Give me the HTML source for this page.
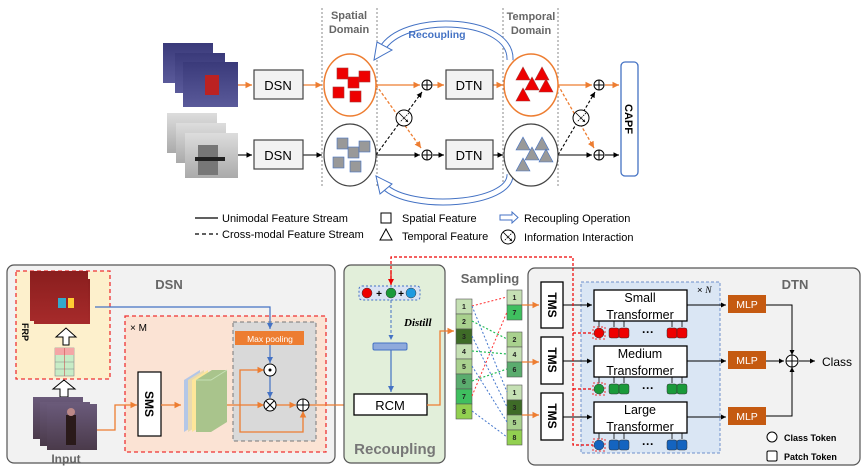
<!DOCTYPE html>
<html><head><meta charset="utf-8"><style>
html,body{margin:0;padding:0;background:#fff;}
svg{display:block;font-family:"Liberation Sans",sans-serif;}
</style></head><body>
<svg width="865" height="469" viewBox="0 0 865 469" xmlns="http://www.w3.org/2000/svg">
<defs>
<marker id="ab" markerWidth="6" markerHeight="6" refX="5" refY="3" orient="auto"><path d="M0,0.5 L5,3 L0,5.5z" fill="#000"/></marker>
<marker id="ao" markerWidth="6" markerHeight="6" refX="5" refY="3" orient="auto"><path d="M0,0.5 L5,3 L0,5.5z" fill="#ed7d31"/></marker>
<marker id="abl" markerWidth="6" markerHeight="6" refX="5" refY="3" orient="auto"><path d="M0,0.5 L5,3 L0,5.5z" fill="#4472c4"/></marker>
<marker id="ar" markerWidth="6" markerHeight="6" refX="5" refY="3" orient="auto"><path d="M0,0.5 L5,3 L0,5.5z" fill="#e00"/></marker>
<marker id="as" markerWidth="4" markerHeight="4" refX="3" refY="2" orient="auto"><path d="M0,0 L3,2 L0,4z" fill="#000"/></marker>
<linearGradient id="gc" x1="0" y1="0" x2="0" y2="1"><stop offset="0" stop-color="#3a3a7a"/><stop offset="1" stop-color="#5a5a9a"/></linearGradient>
<linearGradient id="gd" x1="0" y1="0" x2="0" y2="1"><stop offset="0" stop-color="#ddd"/><stop offset="1" stop-color="#aaa"/></linearGradient>
<linearGradient id="gr" x1="0" y1="0" x2="0" y2="1"><stop offset="0" stop-color="#8a1e1e"/><stop offset="1" stop-color="#a52a2a"/></linearGradient>
<linearGradient id="gi" x1="0" y1="0" x2="0" y2="1"><stop offset="0" stop-color="#6a5a7a"/><stop offset="1" stop-color="#4a3a4a"/></linearGradient>
</defs>

<!-- ===== TOP ===== -->
<g stroke="#888" stroke-dasharray="2,2" stroke-width="1">
<line x1="322" y1="8" x2="322" y2="188"/><line x1="377" y1="8" x2="377" y2="188"/>
<line x1="503" y1="8" x2="503" y2="188"/><line x1="558" y1="8" x2="558" y2="188"/>
</g>
<g font-weight="bold" font-size="11" fill="#666" text-anchor="middle">
<text x="349" y="19">Spatial</text><text x="349" y="33">Domain</text>
<text x="531" y="20">Temporal</text><text x="531" y="34">Domain</text>
</g>
<!-- recoupling arcs -->
<path d="M510,60 C512,18 410,12 384,46" fill="none" stroke="#4472c4" stroke-width="7"/>
<path d="M510,60 C512,18 410,12 384,46" fill="none" stroke="#fff" stroke-width="5"/>
<path d="M377,42 L392,50 L374,60 Z" fill="#fff" stroke="#4472c4" stroke-width="1"/>
<path d="M510,174 C512,205 410,212 384,186" fill="none" stroke="#4472c4" stroke-width="7"/>
<path d="M510,174 C512,205 410,212 384,186" fill="none" stroke="#fff" stroke-width="5"/>
<path d="M376,176 L392,184 L380,194 Z" fill="#fff" stroke="#4472c4" stroke-width="1"/>
<text x="437" y="38" font-size="10.5" fill="#4472c4" font-weight="bold" text-anchor="middle">Recoupling</text>
<!-- images -->
<rect x="163" y="43" width="50" height="40" fill="url(#gc)"/><rect x="175" y="53" width="50" height="40" fill="url(#gc)"/><rect x="183" y="62" width="55" height="45" fill="url(#gc)"/>
<rect x="205" y="75" width="14" height="20" fill="#b22"/>
<rect x="167" y="113" width="50" height="40" fill="url(#gd)"/><rect x="176" y="123" width="50" height="40" fill="url(#gd)"/><rect x="185" y="133" width="53" height="45" fill="url(#gd)"/>
<rect x="198" y="145" width="20" height="30" fill="#777"/><rect x="195" y="157" width="30" height="4" fill="#222"/>
<!-- top stream -->
<g stroke="#ed7d31" stroke-width="1.3" fill="none">
<line x1="238" y1="85" x2="252" y2="85" marker-end="url(#ao)"/>
<line x1="303" y1="85" x2="322" y2="85" marker-end="url(#ao)"/>
<line x1="376" y1="85" x2="420" y2="85" marker-end="url(#ao)"/>
<line x1="433" y1="85" x2="444" y2="85" marker-end="url(#ao)"/>
<line x1="493" y1="85" x2="503" y2="85" marker-end="url(#ao)"/>
<line x1="558" y1="85" x2="592" y2="85" marker-end="url(#ao)"/>
<line x1="605" y1="85" x2="619" y2="85" marker-end="url(#ao)"/>
<line x1="376" y1="85" x2="421" y2="148" stroke-dasharray="3,2" marker-end="url(#ao)"/>
<line x1="558" y1="85" x2="594" y2="148" stroke-dasharray="3,2" marker-end="url(#ao)"/>
</g>
<g stroke="#000" stroke-width="1.1" fill="none">
<line x1="238" y1="155" x2="252" y2="155" marker-end="url(#ab)"/>
<line x1="303" y1="155" x2="322" y2="155" marker-end="url(#ab)"/>
<line x1="376" y1="155" x2="420" y2="155" marker-end="url(#ab)"/>
<line x1="433" y1="155" x2="444" y2="155" marker-end="url(#ab)"/>
<line x1="493" y1="155" x2="503" y2="155" marker-end="url(#ab)"/>
<line x1="558" y1="155" x2="592" y2="155" marker-end="url(#ab)"/>
<line x1="605" y1="155" x2="619" y2="155" marker-end="url(#ab)"/>
<line x1="376" y1="155" x2="422" y2="92" stroke-dasharray="3,2" marker-end="url(#ab)"/>
<line x1="558" y1="155" x2="595" y2="92" stroke-dasharray="3,2" marker-end="url(#ab)"/>
</g>
<g fill="#f2f2f2" stroke="#444" stroke-width="1.2">
<rect x="254" y="70" width="49" height="29"/><rect x="254" y="140" width="49" height="29"/>
<rect x="446" y="70" width="47" height="29"/><rect x="446" y="140" width="47" height="29"/>
</g>
<g font-size="13" text-anchor="middle"><text x="278" y="90">DSN</text><text x="278" y="160">DSN</text><text x="469" y="90">DTN</text><text x="469" y="160">DTN</text></g>
<!-- ellipses -->
<ellipse cx="350" cy="85" rx="26" ry="31" fill="#fff" stroke="#ed7d31" stroke-width="1.5"/>
<ellipse cx="350" cy="155" rx="26" ry="31" fill="#fff" stroke="#444" stroke-width="1.2"/>
<ellipse cx="531" cy="85" rx="27" ry="31" fill="#fff" stroke="#ed7d31" stroke-width="1.5"/>
<ellipse cx="531" cy="155" rx="27" ry="31" fill="#fff" stroke="#444" stroke-width="1.2"/>
<g fill="#e00" stroke="#a33" stroke-width="0.6">
<rect x="337" y="68" width="11" height="11"/><rect x="348" y="77" width="11" height="11"/><rect x="359" y="71" width="11" height="11"/><rect x="333" y="87" width="11" height="11"/><rect x="350" y="91" width="11" height="11"/>
<path d="M523,67 l-7,13 h14z M542,67 l-7,13 h14z M532,77 l-7,13 h14z M546,79 l-7,13 h14z M523,88 l-7,13 h14z"/>
</g>
<g fill="#999" stroke="#4472c4" stroke-width="0.6">
<rect x="337" y="138" width="11" height="11"/><rect x="348" y="147" width="11" height="11"/><rect x="359" y="141" width="11" height="11"/><rect x="333" y="157" width="11" height="11"/><rect x="350" y="161" width="11" height="11"/>
<path d="M523,137 l-7,13 h14z M542,137 l-7,13 h14z M532,147 l-7,13 h14z M546,149 l-7,13 h14z M523,158 l-7,13 h14z"/>
</g>
<!-- oplus / crossed -->
<g fill="#fff" stroke="#000" stroke-width="1">
<circle cx="427" cy="85" r="5"/><circle cx="427" cy="155" r="5"/><circle cx="599" cy="85" r="5"/><circle cx="599" cy="155" r="5"/>
<path d="M422,85h10M427,80v10M422,155h10M427,150v10M594,85h10M599,80v10M594,155h10M599,150v10"/>
<circle cx="404" cy="118" r="8"/><circle cx="581" cy="118" r="8"/>
</g>
<g stroke="#000" stroke-width="0.8" fill="none">
<line x1="399" y1="113" x2="408" y2="122" marker-end="url(#as)"/><line x1="409" y1="113" x2="400" y2="122" stroke-dasharray="1.5,1"/>
<line x1="576" y1="113" x2="585" y2="122" marker-end="url(#as)"/><line x1="586" y1="113" x2="577" y2="122" stroke-dasharray="1.5,1"/>
</g>
<rect x="621" y="62" width="17" height="114" rx="4" fill="#fff" stroke="#4472c4" stroke-width="1.3"/>
<text x="629" y="119" font-size="11" font-weight="bold" text-anchor="middle" transform="rotate(90 629 119)" dy="4">CAPF</text>
<!-- legend -->
<line x1="195" y1="218" x2="218" y2="218" stroke="#000" stroke-width="1.2"/>
<line x1="195" y1="234" x2="218" y2="234" stroke="#000" stroke-width="1.2" stroke-dasharray="4,3"/>
<g font-size="11"><text x="222" y="222">Unimodal Feature Stream</text><text x="222" y="238">Cross-modal Feature Stream</text>
<text x="402" y="222">Spatial Feature</text><text x="402" y="240">Temporal Feature</text>
<text x="524" y="222">Recoupling Operation</text><text x="524" y="241">Information Interaction</text></g>
<rect x="381" y="213" width="10" height="10" fill="#fff" stroke="#000"/>
<path d="M386,229 l-6,11 h12z" fill="#fff" stroke="#000"/>
<path d="M500,215h12v-3l6,5.5-6,5.5v-3h-12z" fill="#fff" stroke="#4472c4"/>
<circle cx="508" cy="237" r="7" fill="#fff" stroke="#000"/>
<g stroke="#000" stroke-width="0.8"><line x1="503" y1="232" x2="512" y2="241" marker-end="url(#as)"/><line x1="513" y1="232" x2="504" y2="241" stroke-dasharray="1.5,1"/></g>

<!-- ===== BOTTOM: DSN ===== -->
<rect x="7" y="265" width="328" height="198" rx="7" fill="#f2f2f2" stroke="#555" stroke-width="1.2"/>
<rect x="16" y="271" width="94" height="108" fill="#fdf0cc" stroke="#e33" stroke-width="1.3" stroke-dasharray="4,3"/>
<text x="169" y="289" font-size="13" font-weight="bold" fill="#666" text-anchor="middle">DSN</text>
<rect x="125" y="316" width="201" height="136" fill="#fbe3d4" stroke="#e33" stroke-width="1.3" stroke-dasharray="4,3"/>
<text x="130" y="331" font-size="10">× M</text>
<rect x="233" y="322" width="83" height="119" fill="#d9d9d9" stroke="#777" stroke-width="1" stroke-dasharray="4,3"/>
<rect x="235" y="331" width="69" height="14" fill="#ed7d31"/>
<text x="270" y="342" font-size="8.5" fill="#fff" text-anchor="middle">Max pooling</text>
<!-- FRP images -->
<rect x="30" y="275" width="56" height="45" fill="url(#gr)"/><rect x="34" y="279" width="56" height="45" fill="url(#gr)"/><rect x="30" y="271" width="58" height="50" fill="url(#gr)"/>
<rect x="58" y="298" width="8" height="10" fill="#3ac"/><rect x="68" y="298" width="6" height="10" fill="#fc3"/>
<text x="22" y="332" font-size="9" font-weight="bold" transform="rotate(90 22 332)" text-anchor="middle">FRP</text>
<path d="M63,345 v-8 h-7 l10,-9 l10,9 h-7 v8z" fill="#fff" stroke="#000"/>
<rect x="55" y="348" width="19" height="28" fill="#c7ecc6" stroke="#888" stroke-width="0.6"/>
<rect x="55" y="348" width="19" height="7" fill="#f4a6a6"/>
<path d="M55,362h19M55,369h19" stroke="#888" stroke-width="0.6"/><line x1="64.5" y1="348" x2="64.5" y2="376" stroke="#c55" stroke-width="0.6"/>
<path d="M60,397 v-8 h-7 l11,-9 l11,9 h-7 v8z" fill="#fff" stroke="#000"/>
<rect x="33" y="397" width="50" height="42" fill="url(#gi)"/><rect x="40" y="402" width="50" height="44" fill="url(#gi)"/><rect x="47" y="404" width="50" height="46" fill="url(#gi)"/>
<rect x="66" y="415" width="10" height="30" fill="#2a1a1a"/><circle cx="71" cy="412" r="4" fill="#b88"/>
<text x="66" y="463" font-size="12" font-weight="bold" fill="#666" text-anchor="middle">Input</text>
<rect x="138" y="372" width="23" height="64" fill="#fff" stroke="#000" stroke-width="1.2"/>
<text x="149" y="404" font-size="12" font-weight="bold" text-anchor="middle" transform="rotate(90 149 404)" dy="4">SMS</text>
<!-- feature stack -->
<path d="M184,380 l16,-10 v52 l-16,10z" fill="#b4c7e7"/>
<path d="M188,380 l16,-10 v52 l-16,10z" fill="#e8d9b0"/>
<path d="M192,380 l16,-10 v52 l-16,10z" fill="#fde69a"/>
<path d="M196,380 l16,-10 h15 v52 l-16,10 h-15z" fill="#a9c48c"/>
<path d="M196,380 h15 l16,-10" fill="none" stroke="#c5e0b4"/>
<!-- arrows DSN -->
<g stroke="#ed7d31" stroke-width="1.3" fill="none">
<path d="M97,430 h18 v-25 h22" marker-end="url(#ao)"/>
<line x1="161" y1="405" x2="181" y2="405" marker-end="url(#ao)"/>
<path d="M227,405 h37" marker-end="url(#ao)"/>
<path d="M240,405 v-35 h24" marker-end="url(#ao)"/>
<path d="M240,405 v27 h63 v-21" marker-end="url(#ao)"/>
<line x1="276" y1="405" x2="296" y2="405" marker-end="url(#ao)"/>
<line x1="309" y1="405" x2="352" y2="405" marker-end="url(#ao)"/>
</g>
<g stroke="#4472c4" stroke-width="1.2" fill="none">
<path d="M95,307 h175 v22" marker-end="url(#abl)"/>
<line x1="270" y1="345" x2="270" y2="363" marker-end="url(#abl)"/>
<line x1="270" y1="376" x2="270" y2="398" marker-end="url(#abl)"/>
</g>
<g fill="#fff" stroke="#000" stroke-width="1">
<circle cx="270" cy="370" r="6"/><circle cx="270" cy="370" r="1" fill="#000"/>
<circle cx="270" cy="405" r="6"/><path d="M266,401l8,8M274,401l-8,8"/>
<circle cx="303" cy="405" r="6"/><path d="M297,405h12M303,399v12"/>
</g>

<!-- ===== Recoupling ===== -->
<rect x="344" y="265" width="101" height="198" rx="7" fill="#e2efda" stroke="#555" stroke-width="1.2"/>
<rect x="359" y="286" width="61" height="14" rx="3" fill="#dae3f3" stroke="#4472c4" stroke-dasharray="2,2"/>
<circle cx="367" cy="293" r="5" fill="#e00" stroke="#333" stroke-width="0.5"/>
<circle cx="391" cy="293" r="5" fill="#1a9a3a" stroke="#333" stroke-width="0.5"/>
<circle cx="411" cy="293" r="5" fill="#1e9ae0" stroke="#333" stroke-width="0.5"/>
<text x="379" y="297" font-size="10" font-weight="bold" text-anchor="middle">+</text><text x="401" y="297" font-size="10" font-weight="bold" text-anchor="middle">+</text>
<line x1="391" y1="300" x2="391" y2="340" stroke="#4472c4" stroke-dasharray="3,2" marker-end="url(#abl)"/>
<text x="404" y="326" font-size="11" font-weight="bold" font-style="italic" font-family="Liberation Serif,serif">Distill</text>
<rect x="373" y="343" width="34" height="7" rx="1.5" fill="#8faadc" stroke="#4472c4"/>
<line x1="391" y1="350" x2="391" y2="392" stroke="#4472c4" stroke-width="1.2" marker-end="url(#abl)"/>
<rect x="354" y="394" width="73" height="21" fill="#fff" stroke="#000" stroke-width="1.3"/>
<text x="390" y="410" font-size="13" text-anchor="middle">RCM</text>
<text x="395" y="454" font-size="15" font-weight="bold" fill="#777" text-anchor="middle">Recoupling</text>
<path d="M427,405 h13 v-74 h14" stroke="#ed7d31" stroke-width="1.3" fill="none" marker-end="url(#ao)"/>

<!-- ===== Sampling ===== -->
<text x="490" y="283" font-size="13" font-weight="bold" fill="#666" text-anchor="middle">Sampling</text>
<g stroke="#555" stroke-width="0.6" font-size="7" font-weight="bold">
<rect x="456" y="299" width="16" height="15" fill="#c5e0b4"/><rect x="456" y="314" width="16" height="15" fill="#a9d18e"/>
<rect x="456" y="329" width="16" height="15" fill="#3e6b27"/><rect x="456" y="344" width="16" height="15" fill="#c5e0b4"/>
<rect x="456" y="359" width="16" height="15" fill="#a9d18e"/><rect x="456" y="374" width="16" height="15" fill="#5aac6e"/>
<rect x="456" y="389" width="16" height="15" fill="#3fbf5f"/><rect x="456" y="404" width="16" height="15" fill="#92d050"/>
<rect x="507" y="290" width="15" height="15" fill="#c5e0b4"/><rect x="507" y="305" width="15" height="15" fill="#3fbf5f"/>
<rect x="507" y="332" width="15" height="15" fill="#a9d18e"/><rect x="507" y="347" width="15" height="15" fill="#c5e0b4"/><rect x="507" y="362" width="15" height="15" fill="#5aac6e"/>
<rect x="507" y="385" width="15" height="15" fill="#c5e0b4"/><rect x="507" y="400" width="15" height="15" fill="#3e6b27"/><rect x="507" y="415" width="15" height="15" fill="#a9d18e"/><rect x="507" y="430" width="15" height="15" fill="#92d050"/>
</g>
<g font-size="7" font-weight="bold" text-anchor="middle" fill="#222">
<text x="464" y="309">1</text><text x="464" y="324">2</text><text x="464" y="339">3</text><text x="464" y="354">4</text><text x="464" y="369">5</text><text x="464" y="384">6</text><text x="464" y="399">7</text><text x="464" y="414">8</text>
<text x="514.5" y="300">1</text><text x="514.5" y="315">7</text>
<text x="514.5" y="342">2</text><text x="514.5" y="357">4</text><text x="514.5" y="372">6</text>
<text x="514.5" y="395">1</text><text x="514.5" y="410">3</text><text x="514.5" y="425">5</text><text x="514.5" y="440">8</text>
</g>
<g fill="none" stroke-width="1" stroke-dasharray="2,2">
<path d="M472,306 L507,297 M472,396 L507,312" stroke="#f33"/>
<path d="M472,321 L507,339 M472,351 L507,354 M472,381 L507,369" stroke="#2b5" stroke-width="1.2"/>
<path d="M472,306 L507,392 M472,336 L507,407 M472,366 L507,422 M472,411 L507,437" stroke="#47c"/>
</g>

<!-- ===== DTN ===== -->
<rect x="528" y="268" width="332" height="197" rx="7" fill="#f2f2f2" stroke="#555" stroke-width="1.2"/>
<text x="795" y="289" font-size="13" font-weight="bold" fill="#666" text-anchor="middle">DTN</text>
<rect x="581" y="282" width="139" height="171" fill="#dae6f4" stroke="#6d90cc" stroke-dasharray="3,2"/>
<text x="697" y="293" font-size="9.5">× <tspan font-style="italic" font-family="Liberation Serif,serif">N</tspan></text>
<g stroke="#ed7d31" stroke-width="1.3">
<line x1="522" y1="305" x2="539" y2="305" marker-end="url(#ao)"/>
<line x1="522" y1="362" x2="539" y2="362" marker-end="url(#ao)"/>
<line x1="522" y1="415" x2="539" y2="415" marker-end="url(#ao)"/>
</g>
<g fill="#fff" stroke="#000" stroke-width="1.3">
<rect x="541" y="282" width="22" height="46"/><rect x="541" y="337" width="22" height="47"/><rect x="541" y="393" width="22" height="47"/>
<rect x="594" y="290" width="93" height="31"/><rect x="594" y="346" width="93" height="31"/><rect x="594" y="402" width="93" height="31"/>
</g>
<g font-size="12" font-weight="bold" text-anchor="middle">
<text x="552" y="305" transform="rotate(90 552 305)" dy="4">TMS</text>
<text x="552" y="360" transform="rotate(90 552 360)" dy="4">TMS</text>
<text x="552" y="416" transform="rotate(90 552 416)" dy="4">TMS</text>
</g>
<g font-size="12.5" text-anchor="middle">
<text x="640" y="302">Small</text><text x="640" y="319">Transformer</text>
<text x="640" y="358">Medium</text><text x="640" y="375">Transformer</text>
<text x="640" y="414">Large</text><text x="640" y="431">Transformer</text>
</g>
<g stroke="#000" stroke-width="1">
<line x1="563" y1="305" x2="592" y2="305" marker-end="url(#ab)"/><line x1="563" y1="361" x2="592" y2="361" marker-end="url(#ab)"/><line x1="563" y1="417" x2="592" y2="417" marker-end="url(#ab)"/>
<line x1="687" y1="305" x2="726" y2="305" marker-end="url(#ab)"/><line x1="687" y1="361" x2="726" y2="361" marker-end="url(#ab)"/><line x1="687" y1="417" x2="726" y2="417" marker-end="url(#ab)"/>
<path d="M766,305 h26 v50" fill="none" marker-end="url(#ab)"/>
<path d="M766,416 h26 v-49" fill="none" marker-end="url(#ab)"/>
<line x1="766" y1="361" x2="784" y2="361" marker-end="url(#ab)"/>
<line x1="799" y1="361" x2="815" y2="361" marker-end="url(#ab)"/>
</g>
<circle cx="792" cy="361" r="6" fill="#fff" stroke="#000"/><path d="M786,361h12M792,355v12" stroke="#000"/>
<text x="822" y="366" font-size="12">Class</text>
<g fill="#c55a11"><rect x="728" y="295" width="38" height="18"/><rect x="728" y="351" width="38" height="18"/><rect x="728" y="407" width="38" height="18"/></g>
<g font-size="10.5" fill="#fff" text-anchor="middle"><text x="747" y="308">MLP</text><text x="747" y="364">MLP</text><text x="747" y="420">MLP</text></g>
<!-- tokens -->
<g stroke="#000" stroke-width="0.8"><path d="M599,327v-6M614,327v-6M624,327v-6M672,327v-6M682,327v-6M599,383v-6M614,383v-6M624,383v-6M672,383v-6M682,383v-6M599,439v-6M614,439v-6M624,439v-6M672,439v-6M682,439v-6"/></g>
<g stroke="#333" stroke-width="0.5">
<g fill="#e00"><circle cx="599" cy="333" r="5"/><rect x="609" y="328" width="10" height="10" rx="2"/><rect x="619" y="328" width="10" height="10" rx="2"/><rect x="667" y="328" width="10" height="10" rx="2"/><rect x="677" y="328" width="10" height="10" rx="2"/></g>
<g fill="#1a9a3a"><circle cx="599" cy="389" r="5"/><rect x="609" y="384" width="10" height="10" rx="2"/><rect x="619" y="384" width="10" height="10" rx="2"/><rect x="667" y="384" width="10" height="10" rx="2"/><rect x="677" y="384" width="10" height="10" rx="2"/></g>
<g fill="#1464c0"><circle cx="599" cy="445" r="5"/><rect x="609" y="440" width="10" height="10" rx="2"/><rect x="619" y="440" width="10" height="10" rx="2"/><rect x="667" y="440" width="10" height="10" rx="2"/><rect x="677" y="440" width="10" height="10" rx="2"/></g>
</g>
<g font-size="12" font-weight="bold" text-anchor="middle"><text x="648" y="336">···</text><text x="648" y="392">···</text><text x="648" y="448">···</text></g>
<g fill="none" stroke="#e33" stroke-width="1" stroke-dasharray="2,2">
<rect x="593" y="327" width="12" height="12"/><rect x="593" y="383" width="12" height="12"/><rect x="593" y="439" width="12" height="12"/>
</g>
<path d="M391,284 V257 H573 V445 H593 M573,333 H593 M573,389 H593" fill="none" stroke="#e00" stroke-width="1.2" stroke-dasharray="3,2"/>
<line x1="391" y1="270" x2="391" y2="285" stroke="#e00" stroke-width="1.2" marker-end="url(#ar)"/>
<circle cx="772" cy="437" r="5" fill="#fff" stroke="#000"/>
<rect x="767" y="451" width="10" height="10" rx="1.5" fill="#fff" stroke="#000"/>
<g font-size="9" font-weight="bold"><text x="784" y="441">Class Token</text><text x="784" y="460">Patch Token</text></g>
</svg>
</body></html>
